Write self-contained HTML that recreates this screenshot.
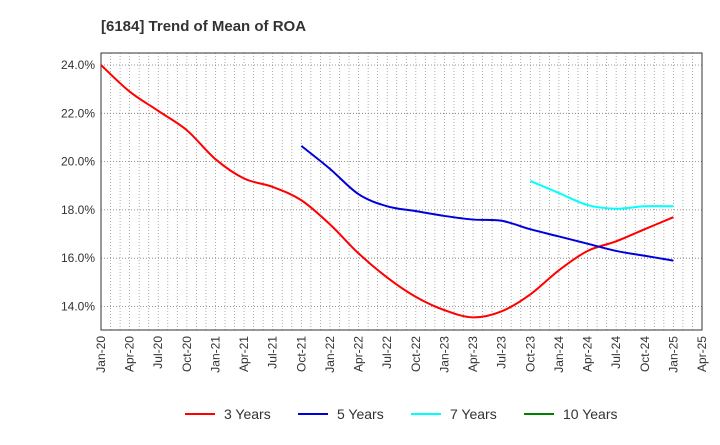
<!DOCTYPE html>
<html><head><meta charset="utf-8"><style>
body{margin:0;background:#fff;font-family:"Liberation Sans",sans-serif}
</style></head><body>
<svg id="c" width="720" height="440" xmlns="http://www.w3.org/2000/svg">
<text x="101" y="31" font-size="15" font-weight="bold" fill="#333">[6184]  Trend of Mean of ROA</text>
<g id="grid"></g><g id="axes"></g><g id="series"></g><g id="legend"></g>
</svg>
<script>
const xLabels=["Jan-20","Apr-20","Jul-20","Oct-20","Jan-21","Apr-21","Jul-21","Oct-21","Jan-22","Apr-22","Jul-22","Oct-22","Jan-23","Apr-23","Jul-23","Oct-23","Jan-24","Apr-24","Jul-24","Oct-24","Jan-25","Apr-25"];
const yTicks=[14,16,18,20,22,24];
const s3=[24.0,22.9,22.1,21.3,20.1,19.3,18.95,18.4,17.4,16.2,15.2,14.4,13.85,13.55,13.8,14.5,15.5,16.3,16.7,17.2,17.7];
const s5=[20.65,19.7,18.65,18.15,17.95,17.75,17.6,17.55,17.2,16.9,16.6,16.3,16.1,15.9];
const s5start=7;
const s7=[19.2,18.7,18.2,18.05,18.15,18.15];
const s7start=15;
const legendNames=["3 Years","5 Years","7 Years","10 Years"];
const legendColors=["#ff0000","#0000dd","#00ffff","#008000"];
const L=101,R=702,T=53,B=330;
const X=q=>L+q*(R-L)/21;
const Y=v=>65+(24-v)*(306.5-65)/10;
const NS="http://www.w3.org/2000/svg";
function mk(p,t,a){const e=document.createElementNS(NS,t);for(const k in a)e.setAttribute(k,a[k]);p.appendChild(e);return e;}
const g=document.getElementById('grid');
for(let m=1;m<63;m++){const x=L+m*(R-L)/63;
const l=mk(g,'line',{x1:x,x2:x,y1:T,y2:B,stroke:'#999','stroke-width':0.8,'stroke-dasharray':'1,2'});

}
yTicks.forEach(v=>{const l=mk(g,'line',{x1:L,x2:R,y1:Y(v),y2:Y(v),stroke:'#777','stroke-width':0.8,'stroke-dasharray':'1,2'});

});
const a=document.getElementById('axes');
const fr=mk(a,'rect',{x:L,y:T,width:R-L,height:B-T,fill:'none',stroke:'#333','stroke-width':1});


yTicks.forEach(v=>{const t=mk(a,'text',{x:L-6,y:Y(v)+4,'text-anchor':'end','font-size':12,fill:'#333'});t.textContent=v.toFixed(1)+'%';

});
xLabels.forEach((s,i)=>{const x=X(i)+4,y=B+6;const t=mk(a,'text',{x:x,y:y,'text-anchor':'end','font-size':12,fill:'#333',transform:`rotate(-90 ${x} ${y})`});t.textContent=s;

});
function path(vals,start){const p=vals.map((v,i)=>[X(start+i),Y(v)]);let d=`M${p[0][0]},${p[0][1]}`;
for(let i=0;i<p.length-1;i++){const p0=p[i-1]||p[i],p1=p[i],p2=p[i+1],p3=p[i+2]||p2;
d+=` C${p1[0]+(p2[0]-p0[0])/6},${p1[1]+(p2[1]-p0[1])/6} ${p2[0]-(p3[0]-p1[0])/6},${p2[1]-(p3[1]-p1[1])/6} ${p2[0]},${p2[1]}`;}return d;}
const sg=document.getElementById('series');
[[s3,0,0,'series-3-years'],[s5,s5start,1,'series-5-years'],[s7,s7start,2,'series-7-years']].forEach(([v,st,c,n])=>{
const e=mk(sg,'path',{d:path(v,st),fill:'none',stroke:legendColors[c],'stroke-width':2});

});
const lg=document.getElementById('legend');
legendNames.forEach((n,i)=>{const x=185+i*113;
const e=mk(lg,'g',{});


mk(e,'line',{x1:x,x2:x+30,y1:414,y2:414,stroke:legendColors[i],'stroke-width':2});
const t=mk(e,'text',{x:x+39,y:419,'font-size':14,fill:'#333'});t.textContent=n;});
</script>
</body></html>
